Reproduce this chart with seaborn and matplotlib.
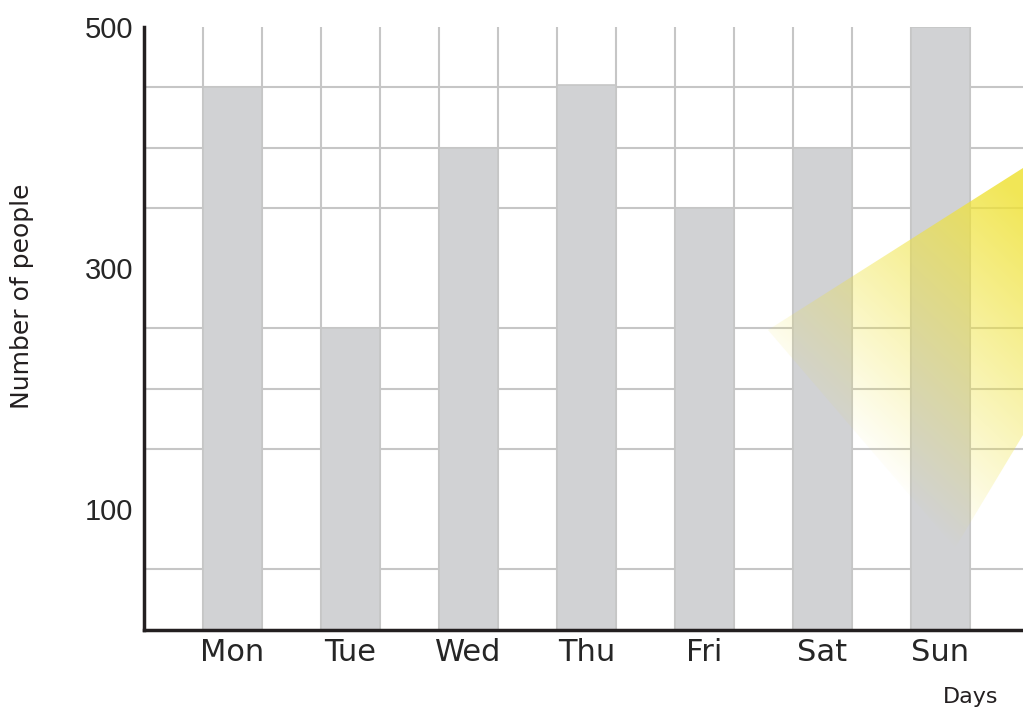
import numpy as np
import pandas as pd
import matplotlib
matplotlib.use("Agg")
import matplotlib.pyplot as plt
import seaborn as sns
from matplotlib.patches import Polygon

days = ["Mon", "Tue", "Wed", "Thu", "Fri", "Sat", "Sun"]
people = [450, 250, 400, 452, 350, 400, 500]
y_labels = [100, 300, 500]

df = pd.DataFrame({"Day": days, "People": people})

sns.set_style("white")
plt.rcParams["font.family"] = ["DejaVu Sans"]

fig = plt.figure(figsize=(10.23, 7.11), dpi=100)
ax = fig.add_axes([144 / 1023, 81.5 / 711, 879 / 1023, 602.5 / 711])

sns.barplot(data=df, x="Day", y="People", color="#d1d2d4", width=0.5,
            saturation=1, edgecolor="#c6c6c6", linewidth=1.2, ax=ax)

ax.set_xlim(-0.75, -0.75 + 14.9 * 0.5)
ax.set_ylim(0, 500)

# grid: vertical lines at every bar edge, horizontal every 50
ax.set_xticks(np.arange(-0.25, 6.5, 0.5), minor=True)
ax.set_yticks(np.arange(50, 501, 50), minor=True)
ax.set_yticks(y_labels)
ax.grid(False)
ax.grid(which="minor", color="#c6c6c6", linewidth=1.5)
ax.set_axisbelow(True)
ax.tick_params(which="both", length=0)
ax.tick_params(axis="x", labelsize=22, pad=6)
ax.tick_params(axis="y", pad=8)
for lbl in ax.get_yticklabels():
    lbl.set_fontfamily("Liberation Sans")
    lbl.set_fontsize(21)

for side in ["top", "right"]:
    ax.spines[side].set_visible(False)
for side in ["left", "bottom"]:
    ax.spines[side].set_color("#231f20")
    ax.spines[side].set_linewidth(2.5)

ax.set_xlabel("")
ax.set_ylabel("")
fig.text(22 / 1023, 1 - 296 / 711, "Number of people", rotation=90,
         ha="center", va="center", fontsize=18, color="#231f20")
fig.text(998 / 1023, 1 - 697 / 711, "Days", ha="right", va="center",
         fontsize=16, color="#231f20")

# yellow spotlight beam over the right side
over = fig.add_axes([0, 0, 1, 1], zorder=5)
over.axis("off")
xx, yy = np.meshgrid(np.arange(1023), np.arange(711))
alpha = 0.09 + 0.00192 * (xx - 768) - 0.00205 * (yy - 330)
alpha = np.clip(alpha, 0, 0.85)
img = np.zeros((711, 1023, 4))
img[..., 0] = 0.94
img[..., 1] = 0.89
img[..., 2] = 0.22
img[..., 3] = alpha
beam = Polygon([(768, 330), (1023, 168), (1023, 435), (955, 548)],
               closed=True, transform=over.transData, facecolor="none",
               edgecolor="none")
over.add_patch(beam)
im = over.imshow(img, extent=(0, 1023, 711, 0), interpolation="bilinear")
im.set_clip_path(beam)
over.set_xlim(0, 1023)
over.set_ylim(711, 0)

fig.savefig("out.png", dpi=100)
